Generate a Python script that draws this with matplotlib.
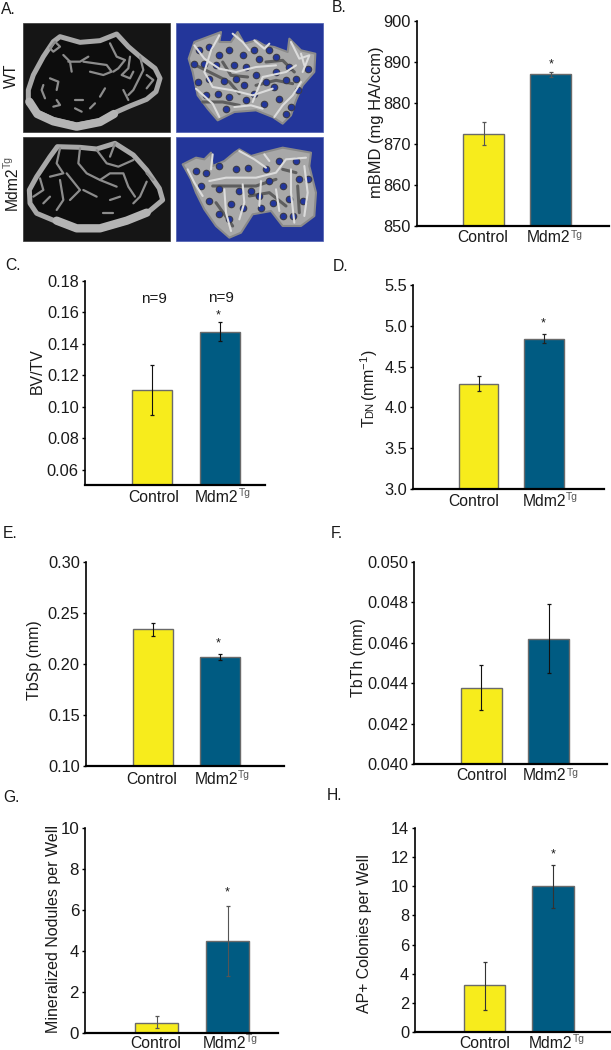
import matplotlib
matplotlib.use("Agg")
import matplotlib.pyplot as plt
from matplotlib.patches import Polygon, Rectangle

plt.rcParams['font.family'] = ['Liberation Sans', 'DejaVu Sans']
plt.rcParams['mathtext.default'] = 'regular'

W, H = 611, 1050
YELLOW = '#f7ec1c'
BLUE = '#005b82'
TEXT = '#1a1a1a'
RENDER_BG = '#23369a'

# chart values
groups = ['Control', 'Mdm2']

bmd_values = [872.5, 887.0]
bmd_low = [869.7, 886.4]
bmd_high = [875.3, 887.6]
bmd_ticks = [850, 860, 870, 880, 890, 900]

bvtv_values = [0.1108, 0.1474]
bvtv_low = [0.0949, 0.1417]
bvtv_high = [0.1265, 0.1535]
bvtv_ticks = [0.06, 0.08, 0.10, 0.12, 0.14, 0.16, 0.18]

tbn_values = [4.29, 4.84]
tbn_low = [4.20, 4.79]
tbn_high = [4.38, 4.90]
tbn_ticks = [3.0, 3.5, 4.0, 4.5, 5.0, 5.5]

tbsp_values = [0.2342, 0.2066]
tbsp_low = [0.2276, 0.2036]
tbsp_high = [0.2400, 0.2099]
tbsp_ticks = [0.10, 0.15, 0.20, 0.25, 0.30]

tbth_values = [0.04377, 0.0462]
tbth_low = [0.04269, 0.0445]
tbth_high = [0.04491, 0.04793]
tbth_ticks = [0.040, 0.042, 0.044, 0.046, 0.048, 0.050]

nodule_values = [0.49, 4.51]
nodule_low = [0.23, 2.76]
nodule_high = [0.80, 6.19]
nodule_ticks = [0, 2, 4, 6, 8, 10]

colony_values = [3.25, 9.98]
colony_low = [1.56, 8.49]
colony_high = [4.83, 11.44]
colony_ticks = [0, 2, 4, 6, 8, 10, 12, 14]

# panel A, traced by eye, in 3x picture units
wt_ct_outline = [(85, 270), (100, 225), (130, 170), (160, 125), (180, 110), (240, 127), (300, 122),
                 (350, 102), (385, 140), (420, 170), (465, 205), (480, 235), (468, 275), (440, 298),
                 (390, 318), (340, 340), (300, 362), (230, 375), (160, 358), (110, 335), (85, 310)]
wt_ct_thick = [(88, 305), (112, 342), (160, 364), (230, 380), (300, 366), (342, 342)]
wt_ct_struts = [[(130, 255), (125, 270), (135, 295)], [(150, 235), (175, 245), (170, 270)],
                [(190, 165), (210, 185), (215, 215)], [(205, 185), (240, 185), (265, 170)],
                [(250, 185), (320, 195), (335, 215), (310, 225), (270, 215)],
                [(330, 130), (350, 170), (375, 180), (355, 205), (340, 215)],
                [(390, 170), (385, 205), (365, 225), (390, 235), (400, 215)],
                [(420, 170), (430, 210), (415, 240), (400, 270), (385, 285)],
                [(440, 225), (460, 240), (440, 265)], [(300, 290), (315, 265)],
                [(170, 300), (180, 315), (160, 320)], [(225, 300), (250, 300)],
                [(270, 325), (285, 310)], [(225, 325), (245, 335)], [(370, 270), (385, 300)],
                [(150, 145), (165, 125), (180, 140), (160, 155), (150, 145)]]
tg_ct_outline = [(88, 570), (110, 530), (150, 470), (172, 440), (240, 442), (290, 447), (345, 430),
                 (400, 465), (440, 510), (478, 565), (488, 600), (440, 640), (380, 665), (300, 688),
                 (230, 688), (170, 665), (110, 640), (90, 610)]
tg_ct_thick = [(170, 662), (230, 685), (300, 685), (380, 662), (440, 638)]
tg_ct_struts = [[(180, 445), (170, 490), (190, 520), (150, 530)],
                [(240, 445), (235, 490), (260, 520), (300, 540), (350, 560)],
                [(290, 450), (320, 490), (355, 500), (400, 480)], [(345, 430), (330, 470)],
                [(200, 520), (240, 570), (210, 600)], [(180, 540), (190, 600), (170, 630)],
                [(120, 535), (130, 570), (100, 590)],
                [(300, 540), (330, 520), (370, 520), (385, 560), (405, 590)],
                [(440, 545), (420, 590), (400, 610)], [(250, 570), (290, 590)],
                [(310, 640), (340, 640)], [(150, 590), (130, 610)],
                [(460, 540), (440, 520)], [(360, 590), (330, 600)]]

# renders: coordinates relative to the corner of each blue square
wt_render_outline = [(38, 110), (55, 60), (95, 45), (135, 30), (130, 60), (165, 60), (185, 30), (205, 65),
                     (240, 55), (265, 70), (295, 75), (335, 90), (340, 50), (375, 85), (418, 95), (415, 150),
                     (380, 190), (360, 235), (345, 280), (320, 305), (290, 285), (240, 265), (175, 270),
                     (125, 295), (95, 260), (65, 220), (50, 150)]
wt_render_holes = [(70, 85), (100, 75), (130, 100), (160, 85), (200, 100), (85, 125), (120, 130), (145, 178),
                   (175, 130), (210, 135), (250, 110), (300, 105), (340, 135), (65, 180), (100, 170), (90, 220),
                   (125, 215), (160, 225), (205, 190), (270, 180), (300, 150), (330, 175), (360, 170), (240, 160),
                   (210, 235), (265, 245), (310, 230), (345, 255), (150, 260), (330, 275), (365, 205), (180, 170),
                   (295, 195), (55, 125), (235, 85), (280, 85), (395, 140), (235, 215)]
wt_render_lights = [[(55, 70), (85, 110), (130, 140), (180, 150), (240, 135), (300, 130)],
                    [(130, 40), (105, 85), (85, 150), (110, 195), (170, 205), (230, 220), (290, 200)],
                    [(170, 35), (200, 60), (220, 85)], [(235, 55), (265, 80), (280, 65)],
                    [(345, 60), (370, 110), (400, 100), (380, 150)], [(375, 95), (385, 130)],
                    [(230, 240), (260, 165), (330, 150), (360, 130)],
                    [(295, 285), (320, 250), (350, 220), (375, 180)],
                    [(60, 200), (110, 245), (130, 285)], [(175, 255), (225, 250), (260, 260)]]
wt_render_darks = [[(60, 130), (100, 150), (160, 180), (190, 215)], [(140, 120), (165, 160), (215, 165)],
                   [(240, 190), (300, 175), (350, 185)], [(80, 240), (140, 240), (190, 250)],
                   [(270, 120), (320, 115), (355, 150)]]

tg_render_outline = [(20, 85), (60, 65), (85, 70), (105, 50), (110, 90), (145, 75), (175, 50), (190, 40),
                     (225, 60), (260, 50), (320, 35), (405, 50), (400, 90), (420, 170), (415, 240), (375, 270),
                     (320, 270), (285, 225), (230, 235), (195, 290), (160, 305), (120, 270), (85, 220), (60, 170),
                     (45, 130)]
tg_render_holes = [(60, 105), (75, 150), (100, 195), (130, 235), (165, 205), (130, 160), (190, 165), (225, 165),
                   (180, 100), (215, 95), (270, 100), (310, 75), (360, 75), (370, 130), (320, 150), (280, 135),
                   (250, 180), (290, 200), (340, 190), (380, 195), (350, 240), (320, 240), (200, 215), (160, 250),
                   (255, 215), (395, 130), (130, 90), (90, 110)]
tg_render_lights = [[(100, 135), (150, 125), (240, 125), (300, 110), (330, 70), (390, 65)],
                    [(145, 160), (150, 230), (165, 285)], [(200, 145), (205, 200), (190, 250)],
                    [(255, 135), (250, 210)], [(300, 160), (310, 225)], [(345, 100), (345, 170), (355, 260)],
                    [(385, 90), (395, 170), (385, 240)], [(35, 100), (55, 140), (80, 180)],
                    [(190, 45), (235, 70), (270, 95)], [(265, 55), (280, 75)], [(110, 55), (105, 100)]]
tg_render_darks = [[(110, 150), (240, 150), (300, 130)], [(120, 200), (170, 270)], [(220, 180), (280, 170), (330, 210)],
                   [(320, 100), (360, 110)], [(365, 150), (370, 230)]]

layout = {
    'bmd': dict(box=(416.7, 21, 609, 225.7), bars=(483.5, 550.5), width=40.4, labels=(482.8, 549),
                label_y=238, ylabel_xy=(376, 122), err='#555555', ylabel_fs=11.9),
    'bvtv': dict(box=(85, 280.7, 265, 485.3), bars=(152, 219.8), width=40.4, labels=(153.8, 217),
                 label_y=497, ylabel_xy=(37, 371), err='#111111', ylabel_fs=11.4),
    'tbn': dict(box=(413.3, 285, 604, 489), bars=(478.7, 544), width=39.5, labels=(473.7, 544.3),
                label_y=501, ylabel_xy=(369, 388), err='#222222', ylabel_fs=11.4),
    'tbsp': dict(box=(86, 562.3, 284, 766), bars=(152.5, 219.5), width=40, labels=(152, 216),
                 label_y=779, ylabel_xy=(35, 660), err='#111111', ylabel_fs=11.4),
    'tbth': dict(box=(414.3, 561.7, 606.7, 764), bars=(481.2, 548.8), width=41, labels=(482, 545),
                 label_y=776, ylabel_xy=(358, 658), err='#111111', ylabel_fs=11.4),
    'nodule': dict(box=(85.3, 828.3, 278, 1032.7), bars=(156.8, 227.7), width=43, labels=(155.5, 224),
                   label_y=1043, ylabel_xy=(54, 929), err='#555555', ylabel_fs=11.5),
    'colony': dict(box=(415.3, 827.7, 610, 1032.3), bars=(484.5, 553), width=41.6, labels=(484.5, 551),
                   label_y=1043, ylabel_xy=(364, 934), err='#333333', ylabel_fs=11.4),
}


def draw_panel(fig, name, values, low, high, ticks, fmt, ylabel, fs=11.8, star=None):
    cfg = layout[name]
    x0, y0, x1, y1 = cfg['box']
    ax = fig.add_axes([x0 / W, 1 - y1 / H, (x1 - x0) / W, (y1 - y0) / H])
    ax.set_xlim(x0, x1)
    ax.set_ylim(ticks[0] if name != 'bvtv' else 0.05, ticks[-1])
    ax.patch.set_alpha(0)
    yerr = [[v - l for v, l in zip(values, low)], [h - v for v, h in zip(values, high)]]
    ax.bar(cfg['bars'], values, width=cfg['width'], color=[YELLOW, BLUE], edgecolor='#6a6a6a', linewidth=1.0)
    ax.errorbar(cfg['bars'], values, yerr=yerr, fmt='none', ecolor=cfg['err'], elinewidth=0.8,
                capsize=1.6, capthick=0.9)
    for s in ['top', 'right']:
        ax.spines[s].set_visible(False)
    ax.spines['left'].set_linewidth(1.2)
    ax.spines['bottom'].set_linewidth(1.6)
    ax.set_xticks([])
    ax.set_yticks(ticks)
    ax.set_yticklabels([fmt.format(t) for t in ticks], fontsize=fs, color=TEXT)
    ax.tick_params(axis='y', length=2.5, width=1.0, pad=2)
    if ylabel:
        ax.set_ylabel(ylabel, fontsize=cfg['ylabel_fs'], color=TEXT, va='center')
        ax.yaxis.set_label_coords(cfg['ylabel_xy'][0] / W, 1 - cfg['ylabel_xy'][1] / H, transform=fig.transFigure)
    ly = 1 - cfg['label_y'] / H
    fig.text(cfg['labels'][0] / W, ly, groups[0], fontsize=11.3, color=TEXT, ha='center', va='center')
    t = fig.text(cfg['labels'][1] / W, ly, groups[1], fontsize=11.3, color=TEXT, ha='center', va='center')
    ax.annotate('Tg', xy=(1, 0.4), xycoords=t, fontsize=7.5, color='#555555', ha='left', va='bottom',
                annotation_clip=False)
    if star is not None:
        ax.text(star[0], star[1], '*', fontsize=9, color=TEXT, ha='center', va='center')
    return ax


def draw_ct(ax, box, outline, thick, struts):
    ax.add_patch(Rectangle((box[0], box[1]), box[2] - box[0], box[3] - box[1], fc='#151515', ec='#333333', lw=0.5))
    ax.add_patch(Polygon(outline, closed=True, fc='#0d0d0d', ec='#a8a8a8', lw=3.6, joinstyle='round'))
    ax.plot(*zip(*thick), color='#b4b4b4', lw=6, solid_capstyle='round')
    for s in struts:
        ax.plot(*zip(*s), color='#8c8c8c', lw=1.6, solid_capstyle='round')


def draw_render(ax, box, corner, outline, holes, lights, darks):
    shift = lambda pts: [(px + corner[0], py + corner[1]) for px, py in pts]
    ax.add_patch(Rectangle((box[0], box[1]), box[2] - box[0], box[3] - box[1], fc=RENDER_BG, ec='#4a5cb0', lw=0.5))
    ax.add_patch(Polygon(shift(outline), closed=True, fc='#a8a8a8', ec='#8a8a8a', lw=1.5, joinstyle='round'))
    for s in darks:
        ax.plot(*zip(*shift(s)), color='#5e5e5e', lw=2.2, solid_capstyle='round', zorder=3)
    ax.scatter(*zip(*shift(holes)), s=30, color='#3c3c48', marker='o', linewidths=0, zorder=3)
    ax.scatter(*zip(*shift(holes)), s=16, color=RENDER_BG, marker='o', linewidths=0, zorder=3)
    for s in lights:
        ax.plot(*zip(*shift(s)), color='#dcdcdc', lw=1.5, solid_capstyle='round', zorder=4)


fig = plt.figure(figsize=(W / 100, H / 100), dpi=100)

# panel A drawn in 3x picture units
ax_a = fig.add_axes([0, 0, 1, 1])
ax_a.set_xlim(0, W * 3)
ax_a.set_ylim(H * 3, 0)
ax_a.axis('off')
draw_ct(ax_a, (68, 68, 510, 397), wt_ct_outline, wt_ct_thick, wt_ct_struts)
draw_ct(ax_a, (68, 411, 510, 722), tg_ct_outline, tg_ct_thick, tg_ct_struts)
draw_render(ax_a, (527, 68, 970, 397), (528, 66), wt_render_outline, wt_render_holes, wt_render_lights, wt_render_darks)
draw_render(ax_a, (527, 411, 970, 722), (528, 408), tg_render_outline, tg_render_holes, tg_render_lights, tg_render_darks)

fig.text(11 / W, 1 - 76 / H, 'WT', fontsize=11.3, rotation=90, ha='center', va='center', color=TEXT)
fig.text(12 / W, 1 - 210 / H, 'Mdm2', fontsize=11.3, rotation=90, ha='center', va='bottom', color=TEXT)
fig.text(8 / W, 1 - 168 / H, 'Tg', fontsize=7.5, rotation=90, ha='center', va='bottom', color='#555555')

draw_panel(fig, 'bmd', bmd_values, bmd_low, bmd_high, bmd_ticks, '{:d}', 'mBMD (mg HA/ccm)', star=(551, 889.3))
ax_c = draw_panel(fig, 'bvtv', bvtv_values, bvtv_low, bvtv_high, bvtv_ticks, '{:.2f}', 'BV/TV', star=(218.5, 0.1578))
ax_c.text(154, 0.1685, 'n=9', fontsize=11, color=TEXT, ha='center', va='center')
ax_c.text(221, 0.169, 'n=9', fontsize=11, color=TEXT, ha='center', va='center')
draw_panel(fig, 'tbn', tbn_values, tbn_low, tbn_high, tbn_ticks, '{:.1f}', None, star=(543.5, 5.03))
draw_panel(fig, 'tbsp', tbsp_values, tbsp_low, tbsp_high, tbsp_ticks, '{:.2f}', 'TbSp (mm)', star=(218.5, 0.2205))
draw_panel(fig, 'tbth', tbth_values, tbth_low, tbth_high, tbth_ticks, '{:.3f}', 'TbTh (mm)')
draw_panel(fig, 'nodule', nodule_values, nodule_low, nodule_high, nodule_ticks, '{:d}', 'Mineralized Nodules per Well',
           fs=12.2, star=(227.3, 6.85))
draw_panel(fig, 'colony', colony_values, colony_low, colony_high, colony_ticks, '{:d}', 'AP+ Colonies per Well',
           star=(552.7, 12.2))

# T(small DN) axis label of panel D, pieced together
fig.text(369 / W, 1 - 427 / H, 'T', fontsize=11.4, rotation=90, ha='center', va='bottom', color=TEXT)
fig.text(370 / W, 1 - 418 / H, 'DN', fontsize=8, rotation=90, ha='center', va='bottom', color=TEXT)
fig.text(369 / W, 1 - 401 / H, '(mm$^{-1}$)', fontsize=11.4, rotation=90, ha='center', va='bottom', color=TEXT)

# panel letters
letters = ['A.', 'B.', 'C.', 'D.', 'E.', 'F.', 'G.', 'H.']
letter_xy = [(1, 10), (332, 8), (5, 265), (333, 266), (3, 533), (331, 533), (3, 797), (327, 795)]
for letter, (lx, ly) in zip(letters, letter_xy):
    fig.text(lx / W, 1 - ly / H, letter, fontsize=11.3, ha='left', va='center', color=TEXT)

fig.savefig('out.png', dpi=100)
